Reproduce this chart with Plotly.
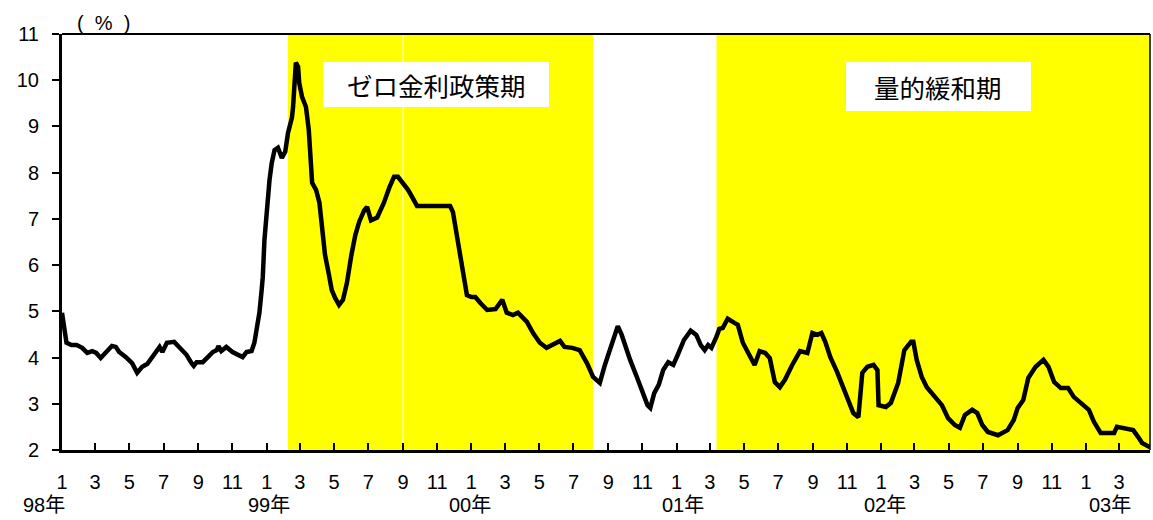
import pandas as pd
import plotly.graph_objects as go

# Weekly-ish observations of the rate (%), Jan 1998 - Apr 2003
dates = [
    "1998-01-01", "1998-01-06", "1998-01-09", "1998-01-18", "1998-01-27", "1998-02-06", "1998-02-15", "1998-02-24",
    "1998-03-03", "1998-03-11", "1998-03-20", "1998-03-31", "1998-04-07", "1998-04-13", "1998-04-25", "1998-05-06",
    "1998-05-15", "1998-05-24", "1998-06-02", "1998-06-11", "1998-06-24", "1998-06-29", "1998-07-07", "1998-07-20",
    "1998-07-29", "1998-08-11", "1998-08-20", "1998-08-24", "1998-08-29", "1998-09-09", "1998-09-18", "1998-09-27",
    "1998-10-04", "1998-10-07", "1998-10-12", "1998-10-21", "1998-11-01", "1998-11-10", "1998-11-19", "1998-11-26",
    "1998-12-05", "1998-12-10", "1998-12-15", "1998-12-19", "1998-12-23", "1998-12-25", "1998-12-28", "1999-01-01",
    "1999-01-06", "1999-01-10", "1999-01-15", "1999-01-21", "1999-01-28", "1999-02-03", "1999-02-08", "1999-02-15",
    "1999-02-17", "1999-02-22", "1999-02-26", "1999-02-28", "1999-03-05", "1999-03-12", "1999-03-17", "1999-03-23",
    "1999-03-30", "1999-04-05", "1999-04-10", "1999-04-15", "1999-04-22", "1999-04-27", "1999-05-03", "1999-05-10",
    "1999-05-17", "1999-05-24", "1999-06-01", "1999-06-08", "1999-06-15", "1999-06-24", "1999-06-29", "1999-07-06",
    "1999-07-17", "1999-07-29", "1999-08-08", "1999-08-16", "1999-08-23", "1999-09-01", "1999-09-10", "1999-09-17",
    "1999-09-22", "1999-09-26", "1999-10-19", "1999-11-24", "1999-11-29", "1999-12-11", "1999-12-24", "2000-01-01",
    "2000-01-08", "2000-01-17", "2000-01-29", "2000-02-13", "2000-02-25", "2000-03-04", "2000-03-15", "2000-03-24",
    "2000-04-09", "2000-04-20", "2000-05-02", "2000-05-14", "2000-05-25", "2000-06-07", "2000-06-15", "2000-06-29",
    "2000-07-12", "2000-07-25", "2000-08-05", "2000-08-17", "2000-08-26", "2000-09-05", "2000-09-13", "2000-09-18",
    "2000-09-25", "2000-10-01", "2000-10-10", "2000-10-22", "2000-11-01", "2000-11-10", "2000-11-15", "2000-11-22",
    "2000-11-30", "2000-12-08", "2000-12-17", "2000-12-26", "2001-01-03", "2001-01-14", "2001-01-26", "2001-02-05",
    "2001-02-13", "2001-02-20", "2001-02-26", "2001-03-04", "2001-03-13", "2001-03-18", "2001-03-24", "2001-04-02",
    "2001-04-14", "2001-04-20", "2001-04-29", "2001-05-08", "2001-05-20", "2001-05-29", "2001-06-08", "2001-06-16",
    "2001-06-25", "2001-07-04", "2001-07-13", "2001-07-26", "2001-08-04", "2001-08-09", "2001-08-22", "2001-08-31",
    "2001-09-09", "2001-09-16", "2001-09-23", "2001-10-02", "2001-10-14", "2001-11-01", "2001-11-12", "2001-11-21",
    "2001-11-28", "2001-12-07", "2001-12-18", "2001-12-25", "2001-12-27", "2002-01-09", "2002-01-18", "2002-01-31",
    "2002-02-11", "2002-02-23", "2002-02-27", "2002-03-05", "2002-03-14", "2002-03-23", "2002-04-03", "2002-04-19",
    "2002-04-30", "2002-05-12", "2002-05-21", "2002-05-30", "2002-06-12", "2002-06-21", "2002-06-30", "2002-07-10",
    "2002-07-28", "2002-08-14", "2002-08-25", "2002-09-01", "2002-09-11", "2002-09-20", "2002-10-03", "2002-10-17",
    "2002-10-26", "2002-11-05", "2002-11-17", "2002-11-30", "2002-12-10", "2002-12-26", "2003-01-06", "2003-01-15",
    "2003-01-27", "2003-02-09", "2003-02-20", "2003-02-25", "2003-03-08", "2003-03-26", "2003-04-04", "2003-04-11",
    "2003-04-25",
]

values = [
    4.97, 4.60, 4.32, 4.27, 4.27, 4.21, 4.10, 4.14,
    4.10, 3.99, 4.10, 4.25, 4.23, 4.12, 4.01, 3.88,
    3.67, 3.80, 3.86, 4.01, 4.23, 4.12, 4.32, 4.34,
    4.23, 4.06, 3.88, 3.82, 3.90, 3.90, 4.01, 4.12,
    4.16, 4.25, 4.14, 4.23, 4.12, 4.06, 4.01, 4.12,
    4.14, 4.32, 4.66, 4.97, 5.46, 5.74, 6.55, 7.26,
    7.84, 8.21, 8.49, 8.54, 8.32, 8.45, 8.86, 9.19,
    9.42, 10.38, 10.29, 9.94, 9.64, 9.42, 8.93, 7.78,
    7.63, 7.35, 6.76, 6.22, 5.79, 5.46, 5.29, 5.14,
    5.25, 5.61, 6.22, 6.65, 6.94, 7.19, 7.26, 6.97,
    7.03, 7.35, 7.69, 7.91, 7.91, 7.78, 7.63, 7.48,
    7.39, 7.28, 7.28, 7.28, 7.15, 6.33, 5.35, 5.31,
    5.31, 5.18, 5.03, 5.05, 5.25, 4.97, 4.92, 4.97,
    4.77, 4.53, 4.32, 4.21, 4.27, 4.36, 4.23, 4.21,
    4.16, 3.88, 3.58, 3.45, 3.84, 4.21, 4.53, 4.68,
    4.49, 4.27, 3.95, 3.58, 3.26, 2.97, 2.91, 3.23,
    3.41, 3.73, 3.90, 3.84, 4.06, 4.38, 4.58, 4.49,
    4.27, 4.16, 4.27, 4.21, 4.45, 4.62, 4.64, 4.84,
    4.75, 4.71, 4.32, 4.12, 3.84, 4.14, 4.10, 3.99,
    3.47, 3.36, 3.52, 3.84, 4.01, 4.14, 4.10, 4.53,
    4.49, 4.53, 4.34, 4.01, 3.69, 3.13, 2.80, 2.71,
    3.67, 3.80, 3.84, 3.73, 2.97, 2.93, 3.02, 3.45,
    4.16, 4.34, 4.34, 3.95, 3.58, 3.36, 3.19, 2.97,
    2.69, 2.54, 2.48, 2.76, 2.87, 2.80, 2.54, 2.39,
    2.32, 2.43, 2.65, 2.91, 3.08, 3.56, 3.80, 3.95,
    3.80, 3.47, 3.34, 3.34, 3.15, 2.97, 2.87, 2.61,
    2.37, 2.37, 2.37, 2.50, 2.48, 2.43, 2.28, 2.15,
    2.06,
]

# Policy periods
zirp_period = ("1999-02-08", "2000-08-05")
qe_period = ("2001-03-13", "2003-04-25")
period_labels = ["ゼロ金利政策期", "量的緩和期"]

# Axis ticks: every other month
tick_dates = list(pd.date_range("1998-01-01", "2003-03-01", freq="2MS").strftime("%Y-%m-%d"))
tick_labels = ["1", "3", "5", "7", "9", "11"] * 5 + ["1", "3"]
year_labels = ["98年", "99年", "00年", "01年", "02年", "03年"]
year_label_x = [-0.0165, 0.190, 0.375, 0.571, 0.756, 0.963]

x_range = ["1998-01-01", "2003-04-25"]
y_range = [2, 11]

num_font = "Liberation Sans, Arial, Noto Sans CJK JP"
jp_font = "Noto Sans CJK JP"

fig = go.Figure()

fig.add_trace(go.Scatter(
    x=dates, y=values, mode="lines",
    line=dict(color="black", width=4.5),
    showlegend=False, hoverinfo="skip",
))

shapes = []
for x0, x1 in (zirp_period, qe_period):
    shapes.append(dict(type="rect", xref="x", yref="paper", x0=x0, x1=x1, y0=0, y1=1,
                       fillcolor="#FFFF00", line=dict(width=0), layer="below"))
# thin light seam inside the first shaded block
shapes.append(dict(type="line", xref="x", yref="paper", x0="1999-09-01", x1="1999-09-01",
                   y0=0, y1=1, line=dict(color="#FFFFD8", width=1), layer="below"))
# white label boxes
shapes.append(dict(type="rect", xref="paper", yref="paper", x0=0.2399, x1=0.4476, y0=0.8245, y1=0.9327,
                   fillcolor="white", line=dict(width=0), layer="below"))
shapes.append(dict(type="rect", xref="paper", yref="paper", x0=0.7206, x1=0.8906, y0=0.8149, y1=0.9327,
                   fillcolor="white", line=dict(width=0), layer="below"))
# top and right frame
shapes.append(dict(type="line", xref="paper", yref="paper", x0=0, x1=1, y0=1, y1=1,
                   line=dict(color="black", width=2)))
shapes.append(dict(type="line", xref="paper", yref="paper", x0=1, x1=1, y0=0, y1=1,
                   line=dict(color="black", width=1.5)))

annotations = [
    dict(text=period_labels[0], xref="paper", yref="paper", x=0.3438, y=0.8786,
         showarrow=False, font=dict(family=jp_font, size=25.5, color="black"),
         xanchor="center", yanchor="middle"),
    dict(text=period_labels[1], xref="paper", yref="paper", x=0.8056, y=0.8738,
         showarrow=False, font=dict(family=jp_font, size=25.5, color="black"),
         xanchor="center", yanchor="middle"),
    dict(text="(  %  )", xref="paper", yref="paper", x=0.0377, y=1.0264,
         showarrow=False, font=dict(family=num_font, size=20, color="black"),
         xanchor="center", yanchor="middle"),
]
for lbl, xp in zip(year_labels, year_label_x):
    annotations.append(dict(text=lbl, xref="paper", yref="paper", x=xp, y=-0.1322,
                            showarrow=False, font=dict(family=num_font, size=20, color="black"),
                            xanchor="center", yanchor="middle"))

fig.update_layout(
    width=1153, height=520, autosize=False,
    margin=dict(l=62, r=3, t=34, b=70),
    paper_bgcolor="white", plot_bgcolor="white",
    shapes=shapes, annotations=annotations,
    xaxis=dict(
        type="date", range=x_range,
        tickvals=tick_dates, ticktext=tick_labels,
        ticks="inside", ticklen=7, tickwidth=2, tickcolor="black",
        showline=True, linewidth=3, linecolor="black",
        showgrid=False, zeroline=False,
        tickfont=dict(family=num_font, size=20, color="black"),
        ticklabelstandoff=12,
    ),
    yaxis=dict(
        range=y_range, dtick=1, tick0=2,
        ticks="outside", ticklen=7, tickwidth=2, tickcolor="black",
        showline=True, linewidth=3, linecolor="black",
        showgrid=False, zeroline=False,
        tickfont=dict(family=num_font, size=20, color="black"),
        ticklabelstandoff=9,
    ),
)

fig.write_html("out.html")
